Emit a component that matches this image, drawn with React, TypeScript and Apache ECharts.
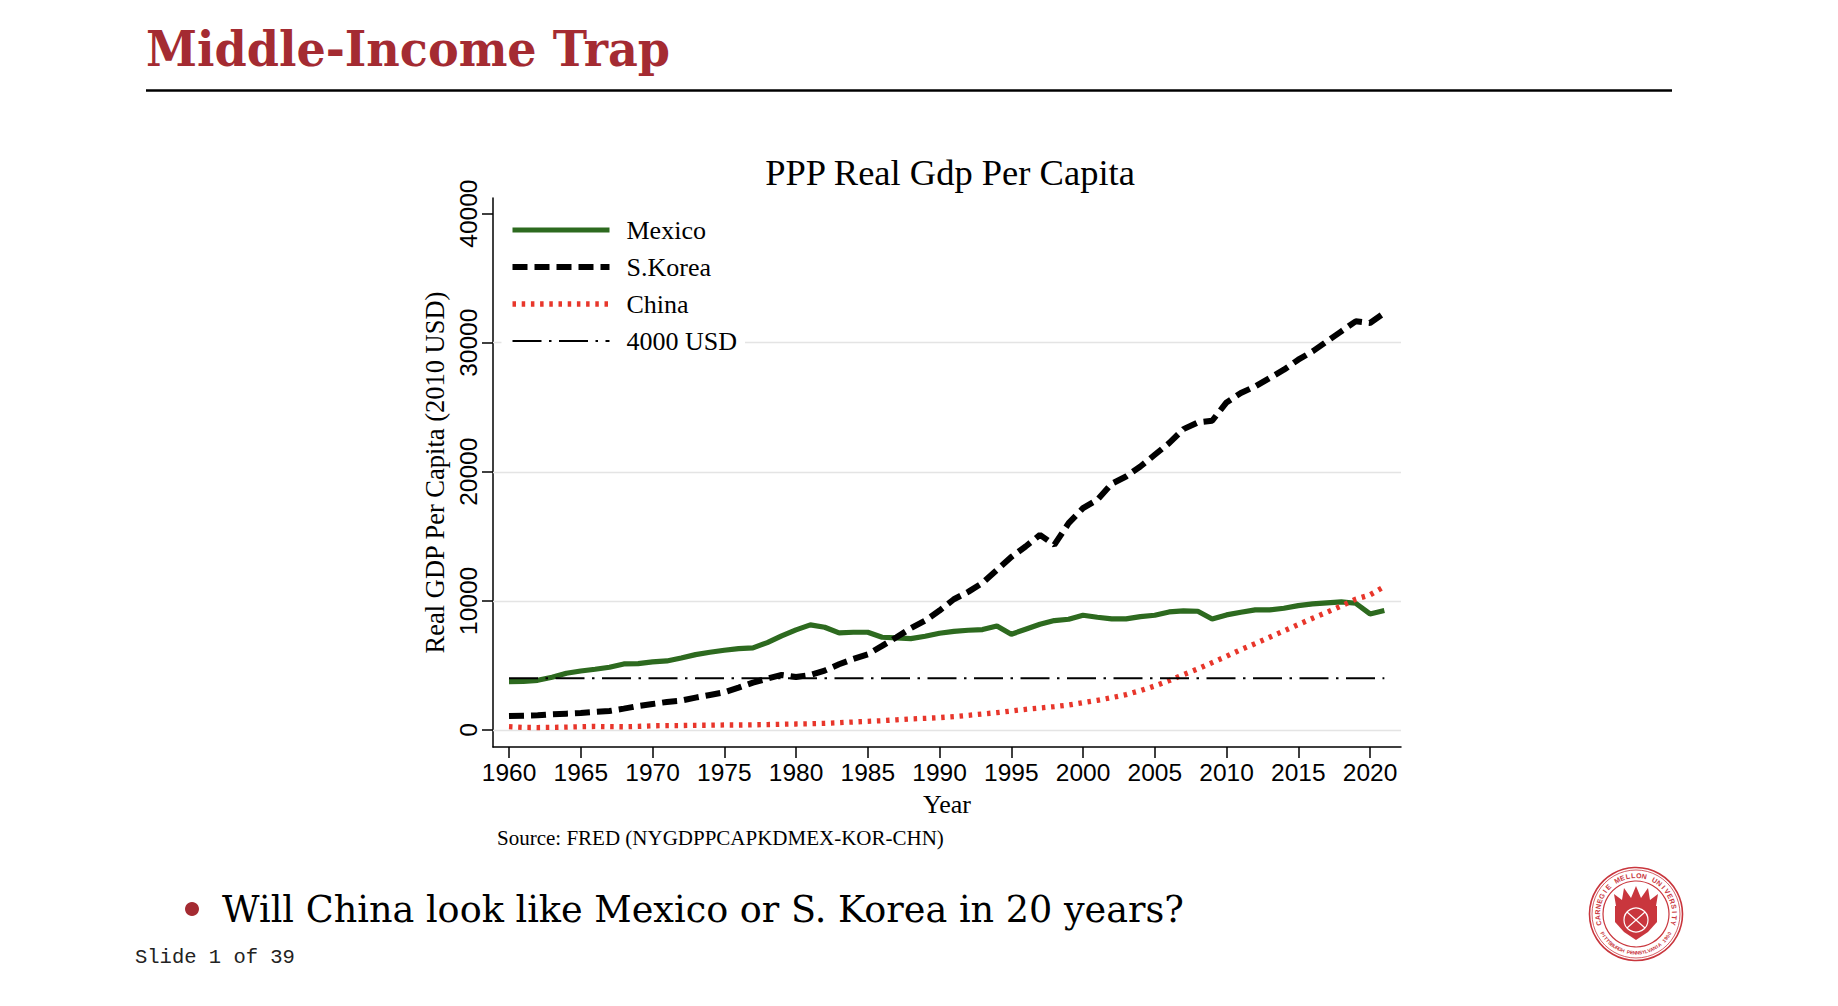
import React, { useEffect, useRef } from "react";
import * as echarts from "echarts";

const years = [
  1960, 1961, 1962, 1963, 1964, 1965, 1966, 1967, 1968, 1969,
  1970, 1971, 1972, 1973, 1974, 1975, 1976, 1977, 1978, 1979,
  1980, 1981, 1982, 1983, 1984, 1985, 1986, 1987, 1988, 1989,
  1990, 1991, 1992, 1993, 1994, 1995, 1996, 1997, 1998, 1999,
  2000, 2001, 2002, 2003, 2004, 2005, 2006, 2007, 2008, 2009,
  2010, 2011, 2012, 2013, 2014, 2015, 2016, 2017, 2018, 2019,
  2020, 2021,
];

const mexico = [
  3744, 3770, 3850, 4083, 4393, 4570, 4703, 4858, 5116, 5142,
  5271, 5349, 5581, 5840, 6020, 6175, 6305, 6357, 6770, 7287,
  7752, 8140, 7959, 7519, 7571, 7571, 7183, 7132, 7080, 7261,
  7494, 7640, 7726, 7778, 8062, 7416, 7804, 8191, 8475, 8579,
  8889, 8734, 8604, 8604, 8786, 8889, 9147, 9225, 9199, 8604,
  8915, 9121, 9302, 9302, 9431, 9638, 9767, 9845, 9922, 9819,
  8992, 9250,
];

const korea = [
  1085, 1111, 1137, 1214, 1266, 1318, 1395, 1473, 1654, 1860,
  2015, 2170, 2274, 2507, 2713, 2920, 3282, 3669, 3979, 4264,
  4109, 4264, 4599, 5090, 5504, 5865, 6512, 7183, 7881, 8475,
  9250, 10129, 10700, 11400, 12400, 13400, 14212, 15116, 14341, 16020,
  17183, 17829, 19070, 19638, 20413, 21318, 22222, 23307, 23824, 23953,
  25375, 26098, 26615, 27261, 27907, 28682, 29328, 30103, 30879, 31654,
  31525, 32300,
];

const china = [
  255, 200, 190, 200, 225, 255, 275, 260, 250, 280,
  325, 340, 345, 365, 370, 390, 385, 400, 420, 445,
  465, 485, 520, 565, 620, 672, 720, 790, 860, 900,
  960, 1033, 1137, 1240, 1344, 1473, 1602, 1705, 1809, 1938,
  2119, 2300, 2507, 2739, 3049, 3411, 3824, 4289, 4729, 5220,
  5710, 6227, 6692, 7183, 7674, 8165, 8656, 9121, 9612, 10129,
  10465, 11111,
];

const thresholdLine = [
  [1960, 4000],
  [2021, 4000],
];

const xTickLabels = [1960, 1965, 1970, 1975, 1980, 1985, 1990, 1995, 2000, 2005, 2010, 2015, 2020];
const yTickLabels = [0, 10000, 20000, 30000, 40000];
const gridValues = [0, 10000, 20000, 30000];
const seriesNames = ["Mexico", "S.Korea", "China", "4000 USD"];

const slideTitle = "Middle-Income Trap";
const chartTitle = "PPP Real Gdp Per Capita";
const yAxisTitle = "Real GDP Per Capita (2010 USD)";
const xAxisTitle = "Year";
const sourceNote = "Source: FRED (NYGDPPCAPKDMEX-KOR-CHN)";
const bulletText = "Will China look like Mexico or S. Korea in 20 years?";
const slideNumber = "Slide 1 of 39";
const sealTop = "CARNEGIE MELLON UNIVERSITY";
const sealBottom = "PITTSBURGH PENNSYLVANIA 1900";

const SERIF = '"Liberation Serif", "Times New Roman", serif';
const SANS = '"Liberation Sans", Arial, sans-serif';
const RED = "#a42b32";
const SEAL = "#c9363d";

function measure(text: string, font: string): number {
  const ctx = document.createElement("canvas").getContext("2d");
  if (!ctx) return 1;
  ctx.font = font;
  return ctx.measureText(text).width || 1;
}

function sealElements(cx: number, cy: number) {
  const els: any[] = [];
  els.push({ type: "circle", shape: { cx, cy, r: 46.5 }, style: { fill: "none", stroke: SEAL, lineWidth: 1.6 }, z: 10 });
  els.push({ type: "circle", shape: { cx, cy, r: 44 }, style: { fill: "none", stroke: SEAL, lineWidth: 0.8 }, z: 10 });
  els.push({ type: "circle", shape: { cx, cy, r: 33 }, style: { fill: "none", stroke: SEAL, lineWidth: 1.2 }, z: 10 });
  const rTop = 38.5;
  const n1 = sealTop.length;
  const a0 = 162, a1 = 378;
  for (let i = 0; i < n1; i++) {
    const a = a0 + ((a1 - a0) * (i + 0.5)) / n1;
    const rad = (a * Math.PI) / 180;
    els.push({
      type: "text",
      x: cx + rTop * Math.cos(rad),
      y: cy + rTop * Math.sin(rad),
      rotation: (-(a + 90) * Math.PI) / 180,
      style: { text: sealTop[i], align: "center", verticalAlign: "middle", fontSize: 7, fontWeight: "bold", fontFamily: SANS, fill: SEAL },
      z: 10,
    });
  }
  const n2 = sealBottom.length;
  const b0 = 152, b1 = 28;
  for (let i = 0; i < n2; i++) {
    const a = b0 + ((b1 - b0) * (i + 0.5)) / n2;
    const rad = (a * Math.PI) / 180;
    els.push({
      type: "text",
      x: cx + rTop * Math.cos(rad),
      y: cy + rTop * Math.sin(rad),
      rotation: ((90 - a) * Math.PI) / 180,
      style: { text: sealBottom[i], align: "center", verticalAlign: "middle", fontSize: 5, fontWeight: "bold", fontFamily: SANS, fill: SEAL },
      z: 10,
    });
  }
  els.push({
    type: "polygon",
    shape: {
      points: [
        [cx - 20, cy - 8], [cx - 22, cy - 20], [cx - 14, cy - 14], [cx - 12, cy - 26],
        [cx - 5, cy - 16], [cx, cy - 28], [cx + 5, cy - 16], [cx + 12, cy - 26],
        [cx + 14, cy - 14], [cx + 22, cy - 20], [cx + 20, cy - 8],
      ],
    },
    style: { fill: SEAL },
    z: 10,
  });
  els.push({
    type: "polygon",
    shape: {
      points: [
        [cx - 21, cy - 8], [cx + 21, cy - 8], [cx + 21, cy + 8], [cx + 12, cy + 18],
        [cx, cy + 26], [cx - 12, cy + 18], [cx - 21, cy + 8],
      ],
    },
    style: { fill: SEAL },
    z: 10,
  });
  els.push({ type: "circle", shape: { cx, cy: cy + 6, r: 12 }, style: { fill: "none", stroke: "#fff", lineWidth: 1.2 }, z: 11 });
  els.push({ type: "line", shape: { x1: cx - 9, y1: cy - 2, x2: cx + 9, y2: cy + 14 }, style: { stroke: "#fff", lineWidth: 1.2 }, z: 11 });
  els.push({ type: "line", shape: { x1: cx + 9, y1: cy - 2, x2: cx - 9, y2: cy + 14 }, style: { stroke: "#fff", lineWidth: 1.2 }, z: 11 });
  return els;
}

export default function App() {
  const ref = useRef<HTMLDivElement>(null);

  useEffect(() => {
    if (!ref.current) return;
    const chart = echarts.init(ref.current, null, { renderer: "svg" });

    const titleFont = `bold 48px "DejaVu Serif"`;
    const titleScale = 524 / measure(slideTitle, titleFont);
    const bulletFont = `37px "DejaVu Serif"`;
    const bulletScale = 962 / measure(bulletText, bulletFont);

    const lineSeries = (name: string, data: number[], color: string, width: number, type: any, z: number, extra: any = {}) => ({
      name,
      type: "line",
      data: years.map((y, i) => [y, data[i]]),
      symbol: "none",
      showSymbol: false,
      lineStyle: { color, width, type, cap: "butt" },
      itemStyle: { color },
      emphasis: { disabled: true },
      silent: true,
      z,
      ...extra,
    });

    const option: any = {
      animation: false,
      backgroundColor: "#ffffff",
      title: {
        text: chartTitle,
        left: 950,
        top: 154,
        textAlign: "center",
        padding: 0,
        textStyle: { fontFamily: SERIF, fontSize: 36.5, fontWeight: "normal", color: "#000" },
      },
      legend: {
        orient: "vertical",
        left: 501.5,
        top: 211,
        itemWidth: 97,
        itemHeight: 14,
        itemGap: 11,
        padding: [6, 8, 6, 8],
        backgroundColor: "#ffffff",
        selectedMode: false,
        data: seriesNames,
        itemStyle: { opacity: 0 },
        lineStyle: { width: "inherit", type: "inherit", cap: "butt" },
        textStyle: { fontFamily: SERIF, fontSize: 26, color: "#000", lineHeight: 26, padding: [0, 0, 0, 12] },
        z: 6,
      },
      grid: { left: 493, right: 437, top: 198, bottom: 259, containLabel: false },
      xAxis: {
        type: "value",
        min: 1958.885,
        max: 2022.16,
        name: xAxisTitle,
        nameLocation: "middle",
        nameGap: 44,
        nameTextStyle: { fontFamily: SERIF, fontSize: 26, color: "#000" },
        axisLine: { show: true, onZero: false, lineStyle: { color: "#000", width: 1.5 } },
        axisTick: { show: true, customValues: xTickLabels, length: 11, lineStyle: { color: "#000", width: 1.5 } },
        axisLabel: {
          customValues: xTickLabels,
          formatter: (v: number) => String(v),
          margin: 13,
          fontFamily: SANS,
          fontSize: 24.5,
          color: "#000",
        },
        splitLine: { show: false },
      },
      yAxis: {
        type: "value",
        min: -1317,
        max: 41208,
        name: yAxisTitle,
        nameLocation: "middle",
        nameRotate: 90,
        nameGap: 45,
        nameTextStyle: { fontFamily: SERIF, fontSize: 26.5, color: "#000" },
        axisLine: { show: true, lineStyle: { color: "#000", width: 1.5 } },
        axisTick: { show: true, customValues: yTickLabels, length: 11, lineStyle: { color: "#000", width: 1.5 } },
        axisLabel: {
          customValues: yTickLabels,
          formatter: (v: number) => String(v),
          rotate: 90,
          margin: 12.5,
          fontFamily: SANS,
          fontSize: 24.5,
          color: "#000",
        },
        splitLine: { show: false },
      },
      series: [
        lineSeries("Mexico", mexico, "#2d6a1f", 5.2, "solid", 3, {
          markLine: {
            silent: true,
            symbol: "none",
            z: 1,
            label: { show: false },
            emphasis: { disabled: true },
            lineStyle: { color: "#e4e4e4", width: 1.4, type: "solid" },
            data: gridValues.map((v) => ({ yAxis: v })),
          },
        }),
        lineSeries("S.Korea", korea, "#000000", 6, [15, 7], 3),
        lineSeries("China", china, "#e8362b", 5.3, [3.5, 5.7], 3),
        {
          name: "4000 USD",
          type: "line",
          data: thresholdLine,
          symbol: "none",
          showSymbol: false,
          lineStyle: { color: "#000000", width: 2, type: [29, 7.5, 2.5, 7.5], cap: "butt" },
          itemStyle: { color: "#000000" },
          emphasis: { disabled: true },
          silent: true,
          z: 3,
        },
      ],
      graphic: [
        {
          type: "text",
          x: 146,
          y: 49,
          scaleX: titleScale,
          style: { text: slideTitle, font: titleFont, fill: RED, align: "left", verticalAlign: "middle" },
          z: 10,
        },
        {
          type: "line",
          shape: { x1: 146, y1: 90.5, x2: 1672, y2: 90.5 },
          style: { stroke: "#000", lineWidth: 2.7 },
          z: 10,
        },
        {
          type: "text",
          x: 497,
          y: 838,
          style: { text: sourceNote, fontFamily: SERIF, fontSize: 21, fill: "#000", align: "left", verticalAlign: "middle" },
          z: 10,
        },
        {
          type: "circle",
          shape: { cx: 192, cy: 909, r: 7 },
          style: { fill: RED },
          z: 10,
        },
        {
          type: "text",
          x: 222,
          y: 909,
          scaleX: bulletScale,
          style: { text: bulletText, font: bulletFont, fill: "#000", align: "left", verticalAlign: "middle" },
          z: 10,
        },
        {
          type: "text",
          x: 135,
          y: 957,
          style: { text: slideNumber, fontFamily: '"Liberation Mono", "DejaVu Sans Mono", monospace', fontSize: 20.5, fill: "#222", align: "left", verticalAlign: "middle" },
          z: 10,
        },
        ...sealElements(1636, 914),
      ],
    };

    chart.setOption(option);
    return () => chart.dispose();
  }, []);

  return (
    <div
      ref={ref}
      style={{ position: "fixed", left: 0, top: 0, width: 1838, height: 1006, background: "#fff" }}
    />
  );
}
